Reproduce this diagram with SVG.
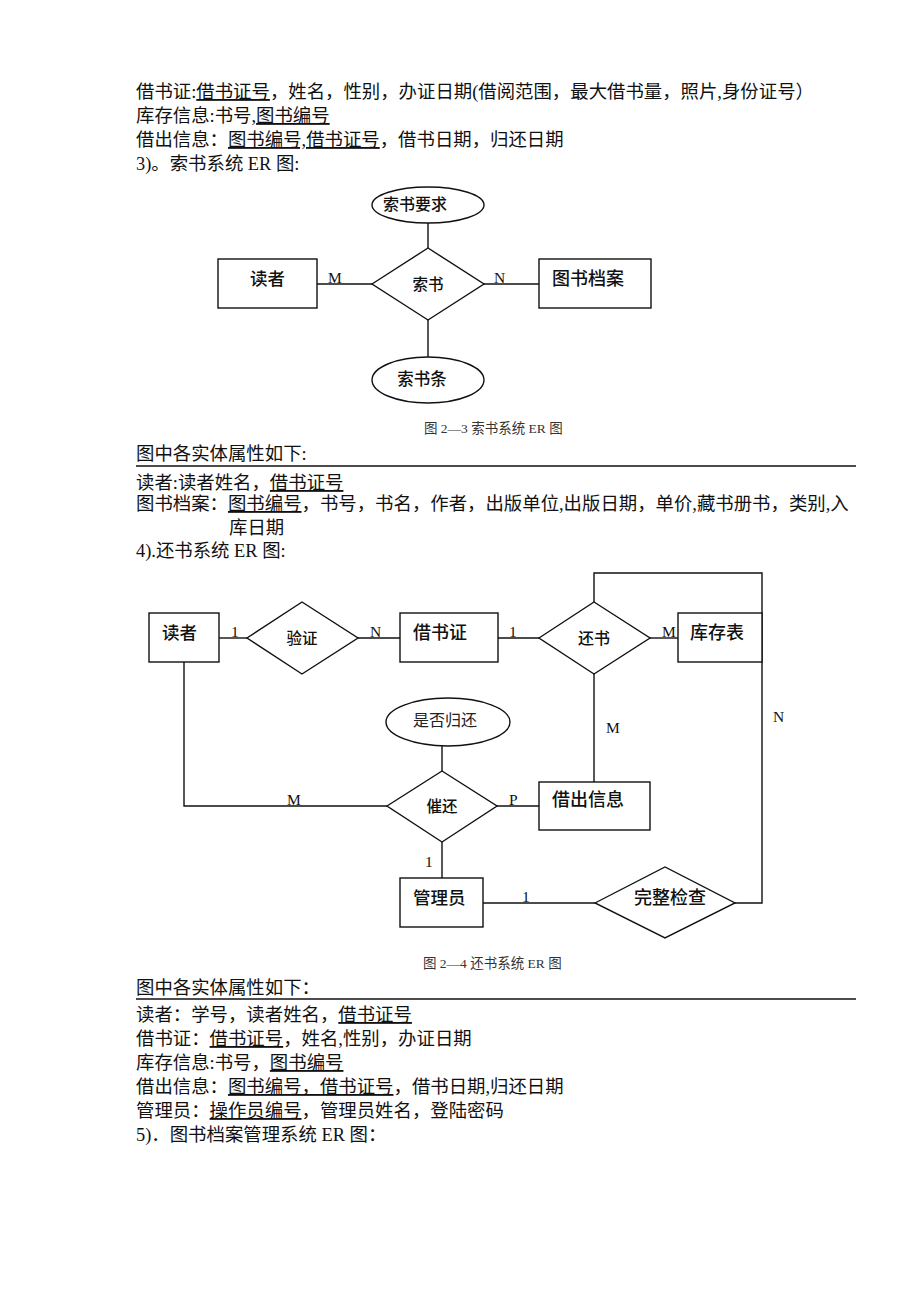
<svg xmlns="http://www.w3.org/2000/svg" width="920" height="1302" viewBox="0 0 920 1302">
<style>
.t{font-family:"Liberation Serif","Noto Sans CJK SC",serif;font-size:18.4px;fill:#111}
.u{text-decoration:underline}
.cap{font-family:"Liberation Serif","Noto Sans CJK SC",serif;font-size:13.5px;fill:#333}
.lb{font-family:"Liberation Serif",serif;font-size:15.5px;fill:#111}
.en{font-family:"Noto Sans CJK SC",sans-serif;font-weight:500;fill:#111;dominant-baseline:central}
.rl{font-family:"Noto Sans CJK SC",sans-serif;font-weight:500;fill:#111;dominant-baseline:central;text-anchor:middle}
.at{font-family:"Liberation Serif","Noto Sans CJK SC",serif;fill:#222;dominant-baseline:central}
.s{fill:#fff;stroke:#111;stroke-width:1.4}
.c{fill:none;stroke:#111;stroke-width:1.4}
.rule{stroke:#111;stroke-width:1.4}
</style>
<rect width="920" height="1302" fill="#fff"/>

<g id="text-top">
<text class="t" x="136" y="98">借书证:<tspan class="u">借书证号</tspan>，姓名，性别，办证日期(借阅范围，最大借书量，照片,身份证号）</text>
<text class="t" x="136" y="122">库存信息:书号,<tspan class="u">图书编号</tspan></text>
<text class="t" x="136" y="146">借出信息：<tspan class="u">图书编号,借书证号</tspan>，借书日期，归还日期</text>
<text class="t" x="136" y="170">3)。索书系统 ER 图:</text>
</g>

<g id="connectors-1">
<line class="c" x1="428" y1="223" x2="428" y2="248"/>
<line class="c" x1="317" y1="284" x2="372" y2="284"/>
<line class="c" x1="484" y1="284" x2="539" y2="284"/>
<line class="c" x1="428" y1="320" x2="428" y2="357"/>
<text class="lb" x="328" y="283">M</text>
<text class="lb" x="494" y="283">N</text>
</g>
<g id="n-suoshuyaoqiu"><ellipse class="s" cx="428" cy="205" rx="56" ry="18"/><text class="rl" x="415" y="203" font-size="16">索书要求</text></g>
<g id="n-suoshu"><polygon class="s" points="372,284 428,248 484,284 428,320"/><text class="rl" x="428" y="283" font-size="15.5">索书</text></g>
<g id="n-duzhe1"><rect class="s" x="218" y="259" width="99" height="49"/><text class="en" x="250" y="277" font-size="17.5">读者</text></g>
<g id="n-tushudangan"><rect class="s" x="539" y="259" width="112" height="49"/><text class="en" x="552" y="277" font-size="18">图书档案</text></g>
<g id="n-suoshutiao"><ellipse class="s" cx="428" cy="380" rx="56" ry="23"/><text class="rl" x="422" y="378" font-size="16.5">索书条</text></g>
<text class="cap" x="424" y="433">图 2—3 索书系统 ER 图</text>

<g id="text-mid">
<text class="t" x="136" y="460">图中各实体属性如下:</text>
<line class="rule" x1="136" y1="466" x2="856" y2="466"/>
<text class="t" x="136" y="489">读者:读者姓名，<tspan class="u">借书证号</tspan></text>
<text class="t" x="136" y="510">图书档案：<tspan class="u">图书编号</tspan>，书号，书名，作者，出版单位,出版日期，单价,藏书册书，类别,入</text>
<text class="t" x="229" y="534">库日期</text>
<text class="t" x="136" y="557">4).还书系统 ER 图:</text>
</g>

<g id="connectors-2">
<line class="c" x1="219" y1="638" x2="247" y2="638"/>
<line class="c" x1="358" y1="638" x2="400" y2="638"/>
<line class="c" x1="498" y1="638" x2="539" y2="638"/>
<line class="c" x1="650" y1="638" x2="678" y2="638"/>
<polyline class="c" points="594,602 594,573 762,573 762,903 735,903"/>
<line class="c" x1="594" y1="674" x2="594" y2="782"/>
<polyline class="c" points="184,662 184,806 387,806"/>
<line class="c" x1="497" y1="806" x2="539" y2="806"/>
<line class="c" x1="442" y1="746" x2="442" y2="771"/>
<line class="c" x1="442" y1="842" x2="442" y2="878"/>
<line class="c" x1="483" y1="903" x2="595" y2="903"/>
<text class="lb" x="231" y="637">1</text>
<text class="lb" x="370" y="637">N</text>
<text class="lb" x="509" y="637">1</text>
<text class="lb" x="662" y="637">M</text>
<text class="lb" x="773" y="722">N</text>
<text class="lb" x="606" y="733">M</text>
<text class="lb" x="287" y="805">M</text>
<text class="lb" x="509" y="805">P</text>
<text class="lb" x="425" y="867">1</text>
<text class="lb" x="522" y="902">1</text>
</g>
<g id="n-duzhe2"><rect class="s" x="149" y="613" width="70" height="49"/><text class="en" x="162" y="631" font-size="17.5">读者</text></g>
<g id="n-yanzheng"><polygon class="s" points="247,638 302,602 358,638 302,674"/><text class="rl" x="302" y="637" font-size="15.5">验证</text></g>
<g id="n-jieshuzheng"><rect class="s" x="400" y="613" width="98" height="49"/><text class="en" x="413" y="631" font-size="18">借书证</text></g>
<g id="n-huanshu"><polygon class="s" points="539,638 594,602 650,638 594,674"/><text class="rl" x="594" y="637" font-size="16">还书</text></g>
<g id="n-kucunbiao"><rect class="s" x="678" y="613" width="84" height="49"/><text class="en" x="690" y="631" font-size="18">库存表</text></g>
<g id="n-shifouguihuan"><ellipse class="s" cx="448" cy="722" rx="62" ry="24"/><text class="at" x="413" y="720" font-size="16">是否归还</text></g>
<g id="n-cuihuan"><polygon class="s" points="387,806 442,771 497,806 442,842"/><text class="rl" x="442" y="805" font-size="15.5">催还</text></g>
<g id="n-jiechuxinxi"><rect class="s" x="539" y="782" width="111" height="48"/><text class="en" x="552" y="798" font-size="18">借出信息</text></g>
<g id="n-guanliyuan"><rect class="s" x="400" y="878" width="83" height="49"/><text class="en" x="413" y="896" font-size="17.5">管理员</text></g>
<g id="n-wanzhengjiancha"><polygon class="s" points="595,903 665,867 735,903 665,938"/><text class="rl" x="670" y="896" font-size="18">完整检查</text></g>
<text class="cap" x="423" y="968">图 2—4 还书系统 ER 图</text>

<g id="text-bottom">
<text class="t" x="136" y="994">图中各实体属性如下：</text>
<line class="rule" x1="136" y1="999" x2="856" y2="999"/>
<text class="t" x="136" y="1021">读者：学号，读者姓名，<tspan class="u">借书证号</tspan></text>
<text class="t" x="136" y="1045">借书证：<tspan class="u">借书证号</tspan>，姓名,性别，办证日期</text>
<text class="t" x="136" y="1069">库存信息:书号，<tspan class="u">图书编号</tspan></text>
<text class="t" x="136" y="1093">借出信息：<tspan class="u">图书编号，借书证号</tspan>，借书日期,归还日期</text>
<text class="t" x="136" y="1117">管理员：<tspan class="u">操作员编号</tspan>，管理员姓名，登陆密码</text>
<text class="t" x="136" y="1141">5)．图书档案管理系统 ER 图：</text>
</g>
</svg>
